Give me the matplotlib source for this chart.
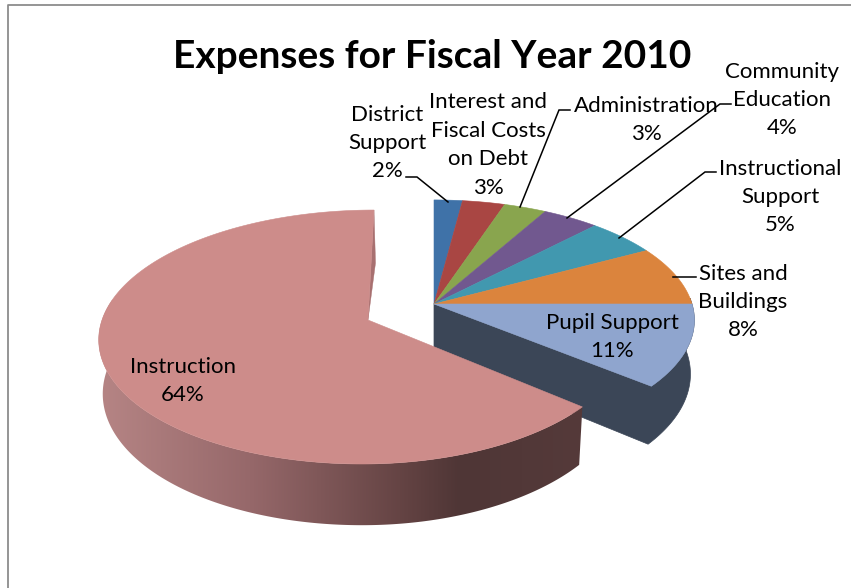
import numpy as np
import matplotlib
matplotlib.use("Agg")
import matplotlib.pyplot as plt
from matplotlib.patches import Polygon
from matplotlib.colors import LinearSegmentedColormap

W, H = 851, 588

# data
small_names = ["District\nSupport", "Interest and\nFiscal Costs\non Debt", "Administration",
               "Community\nEducation", "Instructional\nSupport", "Sites and\nBuildings", "Pupil Support"]
small_values = [2, 3, 3, 4, 5, 8, 11]
small_colors = ["#3F72A8", "#A94643", "#89A54E", "#71588F", "#4198AF", "#DB843D", "#8FA5CE"]
big_name = "Instruction"
big_value = 64
big_color = "#CD8C8A"

# perspective of the disc
P = 0.134
B_SMALL, A_SMALL = 118.0, 258.0
B_BIG, A_BIG_L, A_BIG_R = 124.7, 266.0, 259.0
DEPTH = 53.0
SHRINK = 0.985


def rim(theta, ax_, ay_, a_l, a_r, b, skew=0.0):
    u, v = np.sin(theta), np.cos(theta)
    den = 1 + P * v
    a = np.where(u >= 0, a_r, a_l)
    return ax_ + a * u / den + skew * v, ay_ - b * v / den


def bottom(x, y, theta, ax_):
    return ax_ + (x - ax_) * SHRINK, y + DEPTH / (1 + P * np.cos(theta))


fig = plt.figure(figsize=(W / 100, H / 100), dpi=100)
ax = fig.add_axes([0, 0, 1, 1])
ax.axis("off")
plt.rcParams["font.family"] = ["Lato", "DejaVu Sans"]

# chart frame, only top and left are inside the crop
ax.plot([8, 8, W], [H, 5, 5], color="#8C8C8C", lw=1.3, zorder=0)

total = sum(small_values) + big_value
edges = np.cumsum([0] + small_values) / total * 2 * np.pi

# small slices group
ax0, ay0 = 434, 304
th = np.linspace(np.pi / 2 - 0.05, edges[-1], 150)
x, y = rim(th, ax0, ay0, A_SMALL, A_SMALL, B_SMALL)
xb, yb = bottom(x, y, th, ax0)
end = edges[-1]
# cut face under the last slice and outer wall as one shape
wall = np.r_[[(ax0, ay0), (ax0, ay0 + DEPTH)], np.c_[xb, yb][::-1], np.c_[x, y]]
ax.add_patch(Polygon(wall, fc="#3B4657", ec="#3B4657", lw=0.5, zorder=1))
# top faces
for i, col in enumerate(small_colors):
    t = np.linspace(edges[i], edges[i + 1], 60)
    tx, ty = rim(t, ax0, ay0, A_SMALL, A_SMALL, B_SMALL)
    ax.add_patch(Polygon(np.r_[[(ax0, ay0)], np.c_[tx, ty]], fc=col, ec=col, lw=0.4, zorder=2))

# instruction slice
ax1, ay1 = 368, 320
SKEW = 6.0
t = np.linspace(end, 2 * np.pi, 400)
x, y = rim(t, ax1, ay1, A_BIG_L, A_BIG_R, B_BIG, SKEW)
xb, yb = bottom(x, y, t, ax1)
# outer wall, shaded left to right
grad_x = np.array([98, 250, 400, 460, 585])
grad_cols = ["#B68585", "#96686A", "#654444", "#4F3636", "#553A3A"]
cmap = LinearSegmentedColormap.from_list(
    "wall", list(zip((grad_x - grad_x[0]) / (grad_x[-1] - grad_x[0]), grad_cols)))
front = t < 3 * np.pi / 2 + 0.3
wall = Polygon(np.r_[np.c_[x[front], y[front]], np.c_[xb[front], yb[front]][::-1]],
               fc="none", ec="none", transform=ax.transData)
ax.add_patch(wall)
im = ax.imshow(np.linspace(0, 1, 256)[None, :], cmap=cmap, aspect="auto",
               extent=(grad_x[0], grad_x[-1], 540, 300), zorder=3)
im.set_clip_path(wall)
# thin cut face beside the gap
ax.add_patch(Polygon([(ax1, ay1), (x[-1], y[-1]), (x[-1] + 1.5, y[-1] + DEPTH)], fc="#A87070", ec="#A87070", lw=0.3, zorder=3))
ax.add_patch(Polygon(np.r_[[(ax1, ay1)], np.c_[x, y]], fc=big_color, ec=big_color, lw=0.4, zorder=4))

# leader lines
leaders = [
    [(406, 177), (417, 177), (448, 202)],
    [(570, 110), (559, 110), (520, 207)],
    [(567, 218), (720, 104), (731, 104)],
    [(619, 238), (705, 172), (716, 172)],
    [(673, 277), (696, 277)],
]
for pts in leaders:
    px, py = zip(*pts)
    ax.plot(px, py, color="black", lw=1.1, zorder=5, solid_joinstyle="miter")

# labels
FS = 16
LS = 1.53
label_pos = [(387, 143), (488, 145), (646, 120), (782, 100), (780, 197), (743, 302), (612, 337)]
for name, val, (lx, ly) in zip(small_names, small_values, label_pos):
    ax.text(lx, ly, f"{name}\n{val}%", ha="center", va="center", fontsize=FS, linespacing=LS, color="black", zorder=6)
ax.text(183, 381, f"{big_name}\n{big_value}%", ha="center", va="center", fontsize=FS, linespacing=LS, color="black", zorder=6)

ax.text(432, 56, "Expenses for Fiscal Year 2010", ha="center", va="center", fontsize=28, fontweight="bold", color="black", zorder=6)

ax.set_xlim(0, W)
ax.set_ylim(H, 0)

fig.savefig("out.png", dpi=100)
